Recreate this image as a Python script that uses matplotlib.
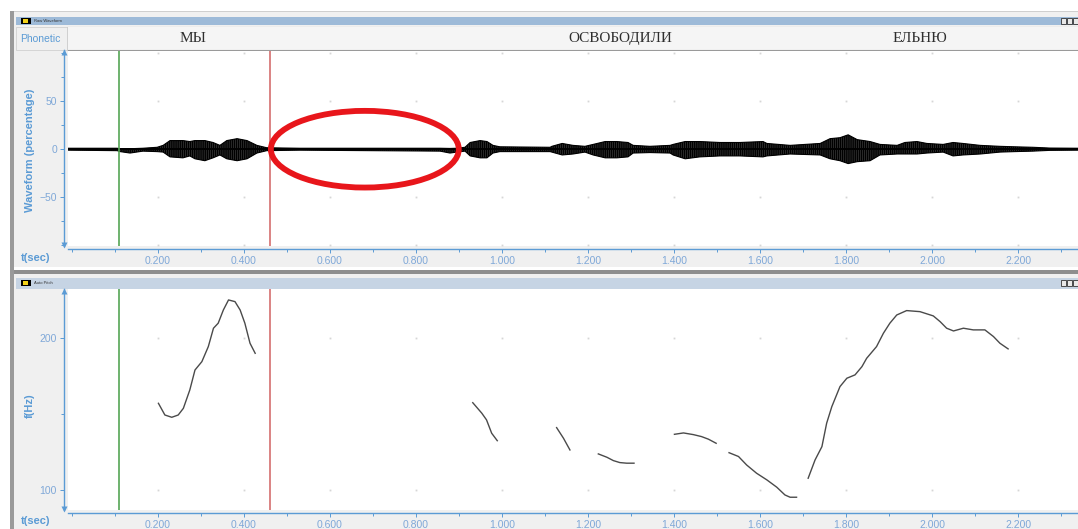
import matplotlib
matplotlib.use('Agg')
import matplotlib.pyplot as plt
from matplotlib.patches import Rectangle, Ellipse
from matplotlib.ticker import MultipleLocator

plt.rcParams['font.family'] = ['Liberation Sans', 'DejaVu Sans']
plt.rcParams['hatch.linewidth'] = 1.1

# ---------------- data ----------------
words = ["МЫ", "ОСВОБОДИЛИ", "ЕЛЬНЮ"]
word_times = [0.281, 1.274, 1.972]
cursor_start = 0.109
cursor_end = 0.460

x_ticks = [0.2, 0.4, 0.6, 0.8, 1.0, 1.2, 1.4, 1.6, 1.8, 2.0, 2.2]
x_tick_labels = ["0.200", "0.400", "0.600", "0.800", "1.000", "1.200",
                 "1.400", "1.600", "1.800", "2.000", "2.200"]
wave_yticks = [50, 0, -50]
wave_grid_y = [100, 50, -50, -100]
pitch_yticks = [100, 200]

# waveform envelope (percent)
env_t = [-0.009, 0.105, 0.112, 0.135, 0.165, 0.198, 0.212, 0.228, 0.258, 0.274,
         0.286, 0.309, 0.328, 0.344, 0.360, 0.384, 0.407, 0.430, 0.453, 0.530,
         0.856, 0.879, 0.895, 0.914, 0.926, 0.949, 0.965, 0.979, 0.995, 1.112,
         1.116, 1.140, 1.165, 1.193, 1.212, 1.240, 1.267, 1.293, 1.305, 1.344,
         1.391, 1.398, 1.426, 1.460, 1.507, 1.553, 1.607, 1.616, 1.670, 1.740,
         1.763, 1.786, 1.805, 1.826, 1.856, 1.879, 1.919, 1.937, 1.965, 1.988,
         2.026, 2.049, 2.072, 2.112, 2.158, 2.193, 2.235, 2.274, 2.340]
env_upper = [1, 1, 0.5, 0.5, 1, 2, 4, 9, 9, 8,
             9, 9, 7, 4, 9, 11, 9, 4, 1.5, 1,
             1, 0.8, 1, 2, 7, 9, 8, 4, 2.5, 2,
             3, 6, 4, 3, 5, 8, 8, 7, 4, 3,
             4, 5, 8, 8, 7, 7, 8, 6, 4, 6,
             11, 12, 15, 10, 8, 5, 4, 7, 8, 6,
             5, 7, 6, 4, 3, 2.5, 2, 1.2, 1]
env_lower = [1, 1.5, 2.5, 4, 2, 2.5, 3, 8, 9, 7,
             10, 12, 9, 6, 10, 12, 10, 4, 1.5, 1,
             2, 4, 3, 2, 7, 9, 9, 4, 2.5, 2.5,
             3, 6, 5, 3, 6, 9, 9, 8, 4, 3.5,
             4, 6, 10, 8, 7, 7, 8, 7, 5, 6,
             10, 12, 15, 13, 12, 6, 5, 5, 5, 4,
             3, 7, 6, 5, 3, 2.5, 2, 1.2, 1]

# pitch contour segments (Hz)
pitch_times = [
    [0.201, 0.216, 0.232, 0.247, 0.259, 0.274, 0.286, 0.302, 0.317, 0.329,
     0.340, 0.352, 0.364, 0.379, 0.391, 0.402, 0.414, 0.426],
    [0.932, 0.953, 0.964, 0.976, 0.989],
    [1.127, 1.143, 1.158],
    [1.224, 1.244, 1.259, 1.274, 1.290, 1.307],
    [1.401, 1.422, 1.445, 1.464, 1.480, 1.498],
    [1.528, 1.550, 1.569, 1.592, 1.616, 1.639, 1.658, 1.670, 1.685],
    [1.712, 1.728, 1.744, 1.755, 1.767, 1.786, 1.802, 1.821, 1.837, 1.848,
     1.871, 1.887, 1.902, 1.918, 1.941, 1.972, 2.003, 2.019, 2.034, 2.050,
     2.073, 2.096, 2.123, 2.143, 2.158, 2.177],
]
pitch_hz = [
    [157.0, 149.3, 147.8, 149.3, 153.7, 165.8, 178.9, 184.4, 194.3, 206.4,
     209.7, 218.4, 225.0, 223.9, 218.4, 209.7, 196.5, 189.9],
    [157.4, 150.5, 146.1, 137.3, 132.4],
    [141.0, 134.0, 126.3],
    [123.7, 121.5, 119.3, 118.0, 117.6, 117.6],
    [136.6, 137.5, 136.4, 135.1, 133.4, 130.7],
    [124.5, 122.0, 116.4, 111.0, 106.6, 101.8, 96.7, 95.2, 95.2],
    [107.7, 119.7, 128.5, 143.9, 154.8, 168.0, 173.5, 175.7, 181.1, 186.6,
     194.3, 203.1, 209.7, 215.1, 218.0, 217.3, 214.5, 210.7, 206.4, 204.6,
     206.4, 205.3, 205.3, 200.9, 196.5, 192.8],
]

# ---------------- layout ----------------
W, H = 1078, 529
fig = plt.figure(figsize=(W / 100, H / 100), dpi=100, facecolor='white')


def rect(x0, y0, x1, y1):
    return [x0 / W, 1 - y1 / H, (x1 - x0) / W, (y1 - y0) / H]


BLUE = '#5b9bd5'
TICKBLUE = '#7fa8d8'
T0 = (68 - 72) / 430.0
T1 = (W - 72) / 430.0

bg = fig.add_axes([0, 0, 1, 1])
bg.set_xlim(0, W)
bg.set_ylim(H, 0)
bg.axis('off')

# outer frame
bg.add_patch(Rectangle((12, 10.5), W, 1, fc='#cfcfcf', ec='none'))
bg.add_patch(Rectangle((10, 11), 3.5, H, fc='#9a9a9a', ec='none'))
bg.add_patch(Rectangle((13.5, 12), W, 255, fc='#f0f0f0', ec='none'))
bg.add_patch(Rectangle((16, 16.5), W, 8.5, fc='#9dbad8', ec='none'))
bg.add_patch(Rectangle((13.5, 269.5), W, 4, fc='#8e8e8e', ec='none'))
bg.add_patch(Rectangle((13.5, 273.5), W, H, fc='#f0f0f0', ec='none'))
bg.add_patch(Rectangle((16, 278), W, 10.5, fc='#c6d4e4', ec='none'))
for ty, name in [(17.5, "Raw Waveform"), (279.5, "Auto Pitch")]:
    bg.add_patch(Rectangle((21, ty), 10, 6.5, fc='black', ec='none'))
    bg.add_patch(Rectangle((22.5, ty + 1.5), 5, 3.5, fc='#f2d21a', ec='none'))
    bg.text(34, ty + 3.3, name, fontsize=3, color='#333333', va='center')
    for bx in (1061, 1067, 1073):
        bg.add_patch(Rectangle((bx, ty + 0.5), 4.5, 5.5, fc='#e8e8e8',
                               ec='#333333', lw=0.6))

# phonetic row
bg.add_patch(Rectangle((67, 26.5), W, 23.5, fc='#f5f5f5', ec='#b5b5b5', lw=0.8))
bg.add_patch(Rectangle((16, 26.5), 51, 23.5, fc='#f0f0f0', ec='#d0d0d0', lw=0.6))
bg.text(20, 38.5, "Phonetic", fontsize=7.5, color=BLUE, va='center', ha='left')

axp = fig.add_axes(rect(68, 27, W, 50))
axp.set_xlim(T0, T1)
axp.set_ylim(0, 1)
axp.set_facecolor('#f5f5f5')
axp.set_xticks([])
axp.set_yticks([])
for s in axp.spines.values():
    s.set_visible(False)
axp.spines['bottom'].set_visible(True)
axp.spines['bottom'].set_color('#9a9a9a')
for w_, t_ in zip(words, word_times):
    axp.text(t_, 0.5, w_, fontsize=11, family=['Liberation Serif', 'DejaVu Serif'],
             color='#2e2e2e', ha='center', va='center')


def style_axis(ax, ylim, yticks, yminor, grid_y):
    ax.set_xlim(T0, T1)
    ax.set_ylim(*ylim)
    ax.set_facecolor('white')
    for side in ('top', 'right'):
        ax.spines[side].set_visible(False)
    ax.spines['left'].set_position(('outward', 2.9))
    ax.spines['bottom'].set_position(('outward', 2.2))
    for side in ('left', 'bottom'):
        ax.spines[side].set_color(BLUE)
        ax.spines[side].set_linewidth(1.0)
    ax.set_xticks(x_ticks, x_tick_labels)
    ax.xaxis.set_minor_locator(MultipleLocator(0.1))
    ax.set_yticks(yticks)
    ax.yaxis.set_minor_locator(MultipleLocator(yminor))
    ax.tick_params(which='both', colors=BLUE, labelcolor=TICKBLUE,
                   labelsize=7.5, length=3, width=0.7, pad=2)
    ax.tick_params(which='minor', length=2)
    for gx in x_ticks:
        for gy in grid_y:
            ax.plot([gx], [gy], marker='s', ms=1.3, color='#d6d6d6', mec='none',
                    clip_on=False, zorder=1)
    ax.axvline(cursor_start, color='#55a655', lw=1.2, zorder=4)
    ax.axvline(cursor_end, color='#d46e6e', lw=1.2, zorder=4)


# ---- waveform panel ----
ax1 = fig.add_axes(rect(68, 50.5, W, 246))
style_axis(ax1, (-101, 103), wave_yticks, 25, wave_grid_y)
ax1.fill_between(env_t, [-v for v in env_lower], env_upper, facecolor='#4a4a4a',
                 edgecolor='black', hatch='||||||||', linewidth=0.8, zorder=3)
ax1.axhline(0, color='black', lw=1.4, zorder=3)
ax1.add_patch(Ellipse((0.681, 0), 0.437, 80, fill=False, ec='#e8161b',
                      lw=4.2, zorder=6, clip_on=False))

# ---- pitch panel ----
ax2 = fig.add_axes(rect(68, 289, W, 510))
style_axis(ax2, (86.8, 232.2), pitch_yticks, 50, pitch_yticks)
for pt, ph in zip(pitch_times, pitch_hz):
    ax2.plot(pt, ph, color='#4a4a4a', lw=1.0, zorder=3)

# axis arrows
for yt, yb in [(52, 245), (291, 509)]:
    bg.plot([64], [yt], marker='^', ms=4, color=BLUE, mec='none', zorder=10)
    bg.plot([64], [yb], marker='v', ms=4, color=BLUE, mec='none', zorder=10)

# axis titles
fig.text(30 / W, 1 - 150 / H, "Waveform (percentage)", rotation=90, fontsize=8,
         fontweight='bold', color=BLUE, ha='center', va='center')
fig.text(30 / W, 1 - 406 / H, "f(Hz)", rotation=90, fontsize=8,
         fontweight='bold', color=BLUE, ha='center', va='center')
fig.text(36 / W, 1 - 258 / H, "t(sec)", fontsize=8, fontweight='bold',
         color=BLUE, ha='center', va='center')
fig.text(36 / W, 1 - 521 / H, "t(sec)", fontsize=8, fontweight='bold',
         color=BLUE, ha='center', va='center')

fig.savefig('out.png', dpi=100, facecolor='white')
